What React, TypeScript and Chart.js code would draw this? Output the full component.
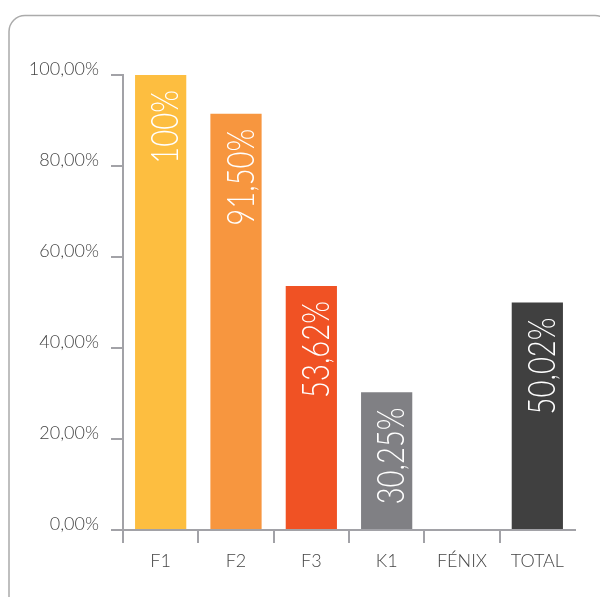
import React, { useEffect, useRef } from "react";
import { Chart, registerables } from "chart.js";

Chart.register(...registerables);

const categories = ["F1", "F2", "F3", "K1", "FÉNIX", "TOTAL"];
const values = [100, 91.5, 53.62, 30.25, 0, 50.02];
const valueLabels = ["100%", "91,50%", "53,62%", "30,25%", "", "50,02%"];
const barColors = ["#FDBE40", "#F7963F", "#F05224", "#808084", "#FFFFFF", "#404040"];
const yTicks = [0, 20, 40, 60, 80, 100];

const AXIS = "#a2a2a7";
const TEXT = "#454545";
const FONT = "Lato";

const framePlugin = {
  id: "frame",
  beforeDraw(chart: any) {
    const ctx = chart.ctx;
    ctx.save();
    ctx.fillStyle = "#ffffff";
    ctx.fillRect(0, 0, chart.width, chart.height);
    ctx.strokeStyle = "#ababab";
    ctx.lineWidth = 1.5;
    ctx.beginPath();
    ctx.roundRect(9, 15.5, 602, 600, 16);
    ctx.stroke();
    ctx.restore();
  },
};

const barLabelPlugin = {
  id: "barLabels",
  afterDatasetsDraw(chart: any) {
    const ctx = chart.ctx;
    const meta = chart.getDatasetMeta(0);
    ctx.save();
    ctx.fillStyle = "#ffffff";
    ctx.font = `300 37px ${FONT}`;
    ctx.textAlign = "right";
    ctx.textBaseline = "alphabetic";
    meta.data.forEach((bar: any, i: number) => {
      const txt = valueLabels[i];
      if (!txt) return;
      ctx.save();
      ctx.translate(bar.x + 17.5, bar.y + 15);
      ctx.rotate(-Math.PI / 2);
      ctx.scale(0.79, 1);
      ctx.fillText(txt, 0, 0);
      ctx.restore();
    });
    ctx.restore();
  },
};

export default function App() {
  const ref = useRef<HTMLCanvasElement | null>(null);
  useEffect(() => {
    if (!ref.current) return;
    const chart = new Chart(ref.current, {
      type: "bar",
      data: {
        labels: categories,
        datasets: [
          {
            data: values,
            backgroundColor: barColors,
            borderWidth: 0,
            categoryPercentage: 1,
            barPercentage: 0.68,
          },
        ],
      },
      options: {
        animation: false,
        responsive: false,
        maintainAspectRatio: false,
        devicePixelRatio: 1,
        layout: { padding: { left: 0, top: 75, right: 25, bottom: 0 } },
        plugins: { legend: { display: false }, tooltip: { enabled: false } },
        scales: {
          x: {
            offset: true,
            afterFit(scale: any) {
              scale.height = 67;
            },
            grid: {
              offset: true,
              drawOnChartArea: false,
              drawTicks: true,
              tickLength: 13,
              lineWidth: 2,
              color: (c: any) => (c.type === "tick" ? AXIS : "rgba(0,0,0,0)"),
            },
            border: { display: true, color: AXIS, width: 2 },
            ticks: {
              color: TEXT,
              font: { family: FONT, size: 18, weight: "300" },
              padding: 7,
              autoSkip: false,
              maxRotation: 0,
            },
          },
          y: {
            min: 0,
            max: 100,
            afterFit(scale: any) {
              scale.width = 123;
            },
            afterBuildTicks(scale: any) {
              scale.ticks = yTicks.map((v) => ({ value: v }));
            },
            grid: {
              drawOnChartArea: false,
              drawTicks: true,
              tickLength: 12,
              lineWidth: 2,
              color: AXIS,
            },
            border: { display: true, color: AXIS, width: 2 },
            ticks: {
              color: TEXT,
              font: { family: FONT, size: 18, weight: "300" },
              padding: 12,
              labelOffset: -6,
              callback: (v: any) => Number(v).toFixed(2).replace(".", ",") + "%",
            },
          },
        },
      },
      plugins: [framePlugin, barLabelPlugin],
    });
    return () => chart.destroy();
  }, []);
  return (
    <div style={{ position: "absolute", left: 0, top: 0, width: 600, height: 597, overflow: "hidden" }}>
      <canvas ref={ref} width={600} height={597} style={{ display: "block", width: 600, height: 597 }} />
    </div>
  );
}
